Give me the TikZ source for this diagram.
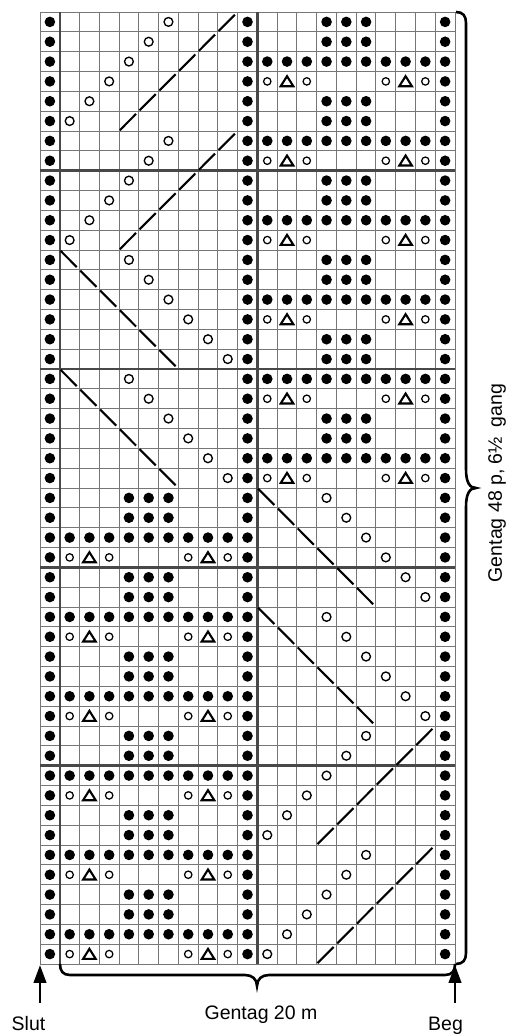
\documentclass[tikz,border=0pt]{standalone}
\usepackage{fontspec}
\setmainfont{Liberation Sans}
\usetikzlibrary{arrows.meta}
\definecolor{gridc}{RGB}{118,118,118}
\definecolor{heavyc}{RGB}{72,72,72}
\tikzset{
  gridline/.style={draw=gridc,line width=0.95pt},
  heavyline/.style={draw=heavyc,line width=2.5pt},
  yosmall/.style={draw=black,line width=1.25pt},
  yobig/.style={draw=black,line width=1.35pt},
  trisym/.style={draw=black,line width=2.1pt,line join=miter},
  decline/.style={draw=black,line width=2.1pt},
  bracestyle/.style={draw=black,line width=2.6pt},
  arrowstyle/.style={draw=black,line width=2.7pt,-{Triangle[length=18pt,width=12.5pt]}},
  lbl/.style={font=\fontsize{19.5}{22}\selectfont,inner sep=0pt}
}
\newcommand\Kdot[2]{\fill (#1-0.5,#2-0.5) circle[radius=5.3pt];}
\newcommand\Kyo[2]{\draw[yosmall] (#1-0.5,#2-0.5) circle[radius=3.7pt];}
\newcommand\Kyob[2]{\draw[yobig] (#1-0.5,#2-0.5) circle[radius=4.4pt];}
\newcommand\Ktri[2]{\draw[trisym] ([shift={(-6.3pt,-4.8pt)}]#1-0.5,#2-0.5) -- ++(12.6pt,0) -- ++(-6.3pt,10pt) -- cycle;}
\newcommand\Kslash[2]{\draw[decline] (#1-0.96,#2-0.96) -- (#1-0.14,#2-0.14);}
\newcommand\Kback[2]{\draw[decline] (#1-0.96,#2-0.04) -- (#1-0.14,#2-0.86);}
\newcommand\DotMotif[3]{%
  \foreach \r in {#2,...,#3}{%
    \pgfmathtruncatemacro\mm{mod(\r,4)}%
    \ifnum\mm=2 \foreach \k in {0,...,8}{\Kdot{#1+\k}{\r}}\fi
    \ifnum\mm=1 \foreach \k in {0,2,6,8}{\Kyo{#1+\k}{\r}}\foreach \k in {1,7}{\Ktri{#1+\k}{\r}}\fi
    \ifnum\mm=0 \foreach \k in {3,4,5}{\Kdot{#1+\k}{\r}}\fi
    \ifnum\mm=3 \foreach \k in {3,4,5}{\Kdot{#1+\k}{\r}}\fi
  }}
\newcommand\LaceUp[2]{%
  \foreach \i in {0,...,5}{\Kyob{#1+\i}{#2+\i}\Kslash{#1+3+\i}{#2+\i}}}
\newcommand\LaceDown[2]{%
  \foreach \i in {0,...,5}{\Kyob{#1+8-\i}{#2+\i}\Kback{#1+5-\i}{#2+\i}}}
\begin{document}
\begin{tikzpicture}[x=1pt,y=1pt]
\useasboundingbox (0,0) rectangle (508,1035);
\begin{scope}[shift={(40pt,71pt)},x=19.7619pt,y=19.8333pt]
  \foreach \i in {0,...,21} \draw[gridline] (\i,0) -- (\i,48);
  \foreach \j in {0,...,48} \draw[gridline] (0,\j) -- (21,\j);
  \foreach \i in {1,11} \draw[heavyline] (\i,0) -- (\i,48);
  \foreach \j in {10,20,30,40} \draw[heavyline] (0,\j) -- (21,\j);
  \foreach \r in {1,...,48} {\Kdot{1}{\r}\Kdot{11}{\r}\Kdot{21}{\r}}
  \LaceUp{12}{1}\LaceUp{12}{7}\LaceDown{12}{13}\LaceDown{12}{19}
  \LaceDown{2}{25}\LaceDown{2}{31}\LaceUp{2}{37}\LaceUp{2}{43}
  \DotMotif{2}{1}{24}
  \DotMotif{12}{25}{48}
\end{scope}
% braces
\draw[bracestyle] (456,1023) .. controls (463,1023) and (466,1019) .. (466,1012)
  -- (466,566) .. controls (466,552) and (470,547) .. (476,547)
  .. controls (470,547) and (466,542) .. (466,528)
  -- (466,82) .. controls (466,75) and (463,71) .. (456,71);
\draw[bracestyle] (60,71) .. controls (60,64) and (63,60) .. (70,60)
  -- (245,60) .. controls (252,60) and (257,56) .. (257,49)
  .. controls (257,56) and (262,60) .. (269,60)
  -- (445,60) .. controls (452,60) and (455,64) .. (455,71);
% arrows
\coordinate (slutfoot) at (40,32);
\coordinate (sluthead) at (40,70);
\coordinate (begfoot) at (455,32);
\coordinate (beghead) at (455,70);
\draw[arrowstyle] (slutfoot) -- (sluthead);
\draw[arrowstyle] (begfoot) -- (beghead);
% labels
\node[lbl,anchor=base] (slut) at (28.5,5) {Slut};
\node[lbl,anchor=base] (beg) at (445.5,5) {Beg};
\node[lbl,anchor=base] (rep20) at (261,15.5) {Gentag 20 m};
\node[lbl,rotate=90] (rep48) at (497,552) {Gentag 48 p, 6½\hspace{0.5em}gang};
\end{tikzpicture}
\end{document}
